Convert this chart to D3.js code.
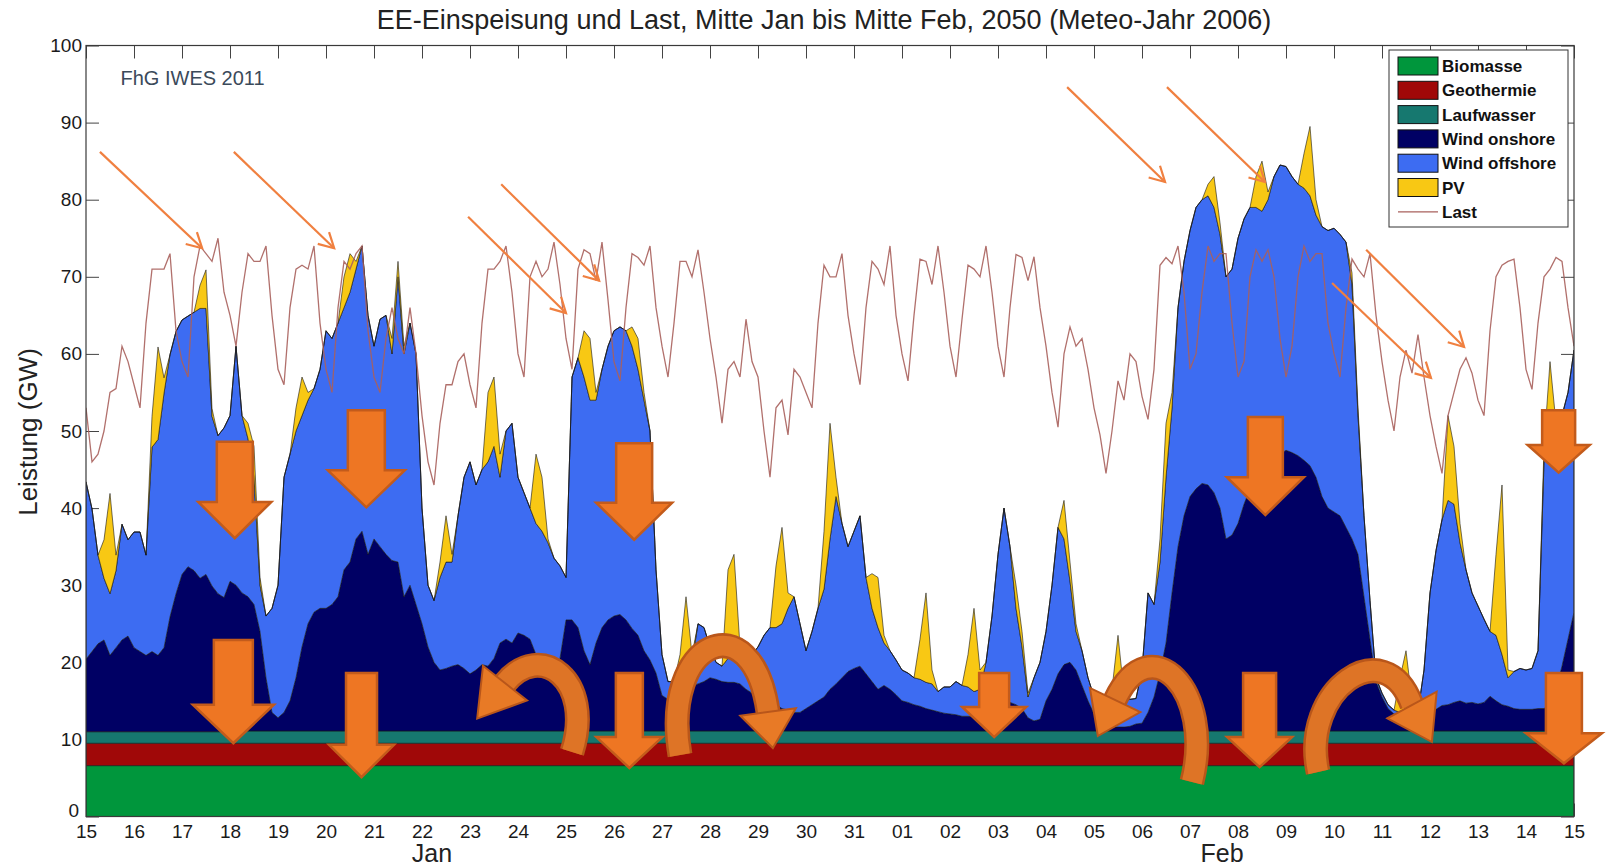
<!DOCTYPE html>
<html><head><meta charset="utf-8">
<script src="https://cdn.jsdelivr.net/npm/d3@7"></script>
<style>
html,body{margin:0;padding:0;background:#fff;}
svg{display:block;font-family:"Liberation Sans",Arial,Helvetica,sans-serif;}
</style></head><body>
<svg id="chart" width="1606" height="868"></svg>
<script>
// ---------------- DATA (GW, 3-hourly samples from 15 Jan 00:00 to 15 Feb 00:00) ----------------
const title = "EE-Einspeisung und Last, Mitte Jan bis Mitte Feb, 2050 (Meteo-Jahr 2006)";
const yLabel = "Leistung (GW)";
const sourceNote = "FhG IWES 2011";
const seriesNames = ["Biomasse","Geothermie","Laufwasser","Wind onshore","Wind offshore","PV"];
const lineName = "Last";
const yTicks = [0,10,20,30,40,50,60,70,80,90,100];
const monthLabels = ["Jan","Feb"];

// daily values (31 days)
const biomasse = [6.6,6.6,6.6,6.6,6.6,6.6,6.6,6.6,6.6,6.6,6.6,6.6,6.6,6.6,6.6,6.6,6.6,6.6,6.6,6.6,6.6,6.6,6.6,6.6,6.6,6.6,6.6,6.6,6.6,6.6,6.6];
const geothermie = [2.9,2.9,2.9,2.9,2.9,2.9,2.9,2.9,2.9,2.9,2.9,2.9,2.9,2.9,2.9,2.9,2.9,2.9,2.9,2.9,2.9,2.9,2.9,2.9,2.9,2.9,2.9,2.9,2.9,2.9,2.9];
const laufwasser = [1.5,1.5,1.5,1.6,1.6,1.6,1.6,1.6,1.6,1.6,1.6,1.6,1.6,1.6,1.6,1.6,1.6,1.6,1.6,1.6,1.6,1.6,1.6,1.6,1.6,1.6,1.6,1.6,1.6,1.6,1.6];

// 3-hourly values (249 samples)
const windOnshore = [
9.4,10.4,11.4,11.9,9.9,10.9,11.9,12.4,
10.9,10.4,9.9,10.4,9.9,10.9,14.9,17.9,
20.4,21.4,20.9,19.9,20.4,18.9,17.9,17.4,
19.4,18.9,17.9,17.4,16.4,12.9,6.9,2.4,
1.7,2.4,3.9,6.9,10.9,13.9,15.4,15.9,
15.9,16.4,17.4,20.9,21.9,24.9,25.9,22.9,
24.9,23.9,22.9,22.1,21.9,17.4,18.9,16.4,
13.9,10.9,8.9,7.9,8.1,8.4,8.6,8.1,
7.4,7.9,8.6,8.4,9.4,11.4,11.9,11.4,
12.7,12.4,11.9,9.9,8.4,6.9,7.9,9.4,
14.4,14.4,13.4,10.4,8.6,11.4,13.4,14.4,
14.9,15.1,14.4,13.3,12.4,10.4,9.2,7.5,
4.6,4.1,4.4,4.9,5.4,5.9,6.1,6.4,
6.9,6.7,6.4,6.3,6.3,6.1,5.4,4.9,
4.4,3.9,3.9,3.4,2.9,2.7,2.4,2.4,
2.9,3.4,3.9,4.4,5.4,6.1,6.9,7.7,
8.1,8.4,7.4,6.4,5.4,5.9,5.4,4.7,
3.9,3.7,3.4,3.2,2.9,2.7,2.5,2.3,
2.2,2.1,1.9,1.9,1.9,2.0,2.2,2.5,
2.9,3.9,3.7,3.4,2.9,1.7,1.3,1.5,
3.9,5.4,7.4,8.6,8.9,7.9,5.9,3.9,
2.2,0.9,0.7,0.5,0.5,0.5,0.6,0.9,
1.0,2.4,4.4,7.5,11.4,17.9,23.9,27.9,
30.4,31.4,32.1,31.9,30.9,28.9,24.9,25.4,
26.9,29.4,31.4,32.9,33.9,34.4,35.4,35.9,
36.4,36.1,35.7,35.1,34.4,32.9,30.4,28.9,
28.4,27.9,26.4,24.9,22.9,17.4,11.9,6.4,
4.4,2.9,2.2,1.9,1.6,1.6,1.7,2.2,
2.4,2.8,3.3,3.4,3.7,3.9,3.6,3.7,
3.5,3.7,4.5,3.9,3.4,3.2,2.9,2.8,
2.8,2.8,2.9,2.9,3.4,5.4,8.4,11.9,
15.4];

const windOffshore = [
23,18.5,11.5,8,8,10,15,12.5,
15,15.5,13,26.5,28,33,34,34,
33,32.5,33.5,35,34.5,22,20.5,22,
21.5,31,23,20.5,16.5,6,8,13.5,
17.2,30.5,32,32,30,29,29,31,
36,34.5,35.5,34,35,35,37,31,
25,29.5,31,26.8,37,31.5,34,32.5,
15,8,8,12,13.8,13.5,19.3,24.8,
27.5,24,25.3,26.5,27.5,21.5,27,28.5,
20.2,18.5,17,17,17.5,17.5,14.5,12,
5.5,31.5,35,35.5,34.3,31.5,33.5,35.5,
37,37.3,37.5,36.6,34.5,32.5,29.7,13.4,
5.3,2.3,2,2.5,3,3,7.8,7,
4,2.2,2,3.1,4.1,3.8,4,5,
6.5,8.5,9.5,10,11,13.2,15,11.5,
7.5,9.5,12,14,19.5,24.3,20,16.2,
17.8,19.5,12.5,9.5,8,5.5,5,4.5,
4,3.8,3.5,3.5,3.4,3.4,2.6,3.4,
3.5,4.3,4,3.8,3.2,3.4,6.7,12.4,
20,25,20.2,12.5,8,2.7,5.6,7.4,
9,13.5,19,16.3,10.5,5,4.5,3,
2.2,1.9,1.8,2.4,2.9,3.4,3.5,3.3,
6.9,15.5,12,14.4,21.5,24,31,33,
34.5,36.5,36.8,37.5,37,35.5,34,34.5,
37,37,36.5,35,33.5,34.5,36.5,37.5,
36.8,35.8,35.2,35.3,35,34,35,36,
36.8,36.5,37,33,18,10.5,5,0.5,
0.5,0.5,0.5,0.5,0.6,0.5,0.8,5.7,
15.5,20.6,24.1,26.5,25.7,20.5,17.3,14.2,
12.7,10.8,8.4,8.5,6.5,3.7,4.8,5.3,
5.1,5.3,7.5,32,34,33.5,32.5,32,
34];

const pv = [
0,0,0,5,13,2,0,0,
0,0,0,4,12,2,0,0,
0,0,0,3,5,1,0,0,
0,0,0,2,4,1,0,0,
0,0,0,3,5,1,0,0,
0,0,0,4,5,1,0,0,
0,0,0,2,2,1,0,0,
0,0,0,2,6,1,0,0,
0,0,0,9,9,3,0,0,
0,0,0,9,7,0.5,0,0,
0,0,0,6,8,1,0,0,
0,0,0,2.5,4,1,0,0,
0,0,0,2.5,9,1,0,0,
0,0,0,11.5,12.5,1,0,0,
0,0,0,8,12.5,2,0,0,
0,0,0,7.5,15,2.5,0,0,
0,0,0,4.5,6.5,1,0,0,
0,0,0,5.2,11.6,1.8,0,0,
0,0,0,4.2,10.8,2.5,0,0,
0,0,0,3,2,0.5,0,0,
0,0,0,5,2.5,1,0,0,
0,0,0,2.5,9,1,0,0,
0,0,0,3,7,2,0,0,
0,0,0,1.5,4,1.5,0,0,
0,0,0,4,6.5,1,0,0,
0,0,0,4.5,9,2,0,0,
0,0,0,1.5,1,0,0,0,
0,0,0,4.5,8.2,1.8,0,0,
0,0,0,11,7.5,2.5,0,0,
0,0,0,10.5,22,1,0,0,
0,0,0,2,10.5,1,0,0,
0];

const last = [
53,46,47,50,55,55.5,61,59,
56,53,64,71,71,71,73,63,
59,57,70,74,73,72,75,68,
65,61,68,73,72,72,74,65,
58,56,66,71,71.5,71,74,64,
58,55,66,72,71,73,74,63,
57,55,62,66,62,60,66,60,
52,46,43,51,56,56,59,60,
56,53,64,71,71,72,74,68,
60,57,70,72,70,71,74.5,69,
62,58,71,73.5,73,69.5,74.5,67,
59,56.5,66,73,72.5,71.5,74,66,
61,57,64,72,72,70,73.5,68,
62,57,51,58,59,57,64.5,59,
57,50,44,53,54,49.5,58,57,
55,53,64,71.5,70,70,73,65,
60,56,66,72,71,69,74,65,
60,56.5,65,72.3,72,69,74,68,
61,57,64.5,71.5,71,70,74,68,
61,57,66,72.9,72.5,69.5,72.6,66,
61,55,50.5,60,63.5,61,62,58,
53,49.5,44.5,50,56.5,54,60,59,
54.5,51.5,58,71.5,72.5,71.7,74,68,
58,60,68,74,72,73,73,64,
57,59,70,73.5,72,73.5,70,62,
57,61,70,74,72,73,73,64,
60,57,66,72.3,71,70,73,65,
59,54,50,57,60.5,57.5,62.5,57,
52,48,44.5,52,55,58,59.5,57.5,
54,52,63,70,71.5,72,72.3,66,
58,55.4,64,70,71,72.5,72,66,
61];

// ---------------- ANNOTATIONS (data space: days after 15 Jan, GW) ----------------
const thinArrows = [
  [0.29,86.2,2.42,73.7],[3.08,86.2,5.17,73.7],[7.96,77.8,10.0,65.3],[8.65,82.0,10.69,69.5],
  [20.44,94.6,22.48,82.3],[22.52,94.6,24.56,82.3],[25.96,69.2,28.02,56.9],[26.67,73.5,28.71,60.9]
];
// [day, shaft top, head base, tip]
const blockArrows = [
  [3.10,48.6,40.8,36.1],[5.84,52.7,44.9,40.1],[11.42,48.4,40.7,35.9],[24.57,51.8,44.0,39.1],[30.68,52.7,48.2,44.6],
  [3.07,22.9,14.5,9.5],[5.74,18.6,9.3,5.1],[11.32,18.6,10.3,6.3],[18.92,18.6,14.2,10.3],[24.45,18.6,10.3,6.4],[30.79,18.6,10.8,6.9]
];
const blockSizes = [[18,36.5],[18.5,38.5],[18,38],[17.5,38.5],[16.5,31],[19.5,40.5],[15.5,32.5],[13.5,33],[15,32],[16.5,32.5],[18,38]];
// tail, c1, c2, end, tip
const curvedArrows = [
  [[10.125,8.37],[10.6,17.7],[9.46,22.9],[8.73,17.3],[8.15,12.7]],
  [[12.375,7.97],[11.96,22.9],[13.875,28.06],[14.21,13.55],[14.31,8.88]],
  [[23.04,4.47],[23.52,16.4],[22.17,24.84],[21.44,15.11],[21.08,10.44]],
  [[25.67,5.77],[25.29,16.4],[27.06,24.19],[27.625,14.46],[28.04,9.66]]
];

// ---------------- CHART ----------------
const colors = ["#00963C","#A00808","#16786F","#000064","#3D6CF2","#F8C814"];
const lastColor = "#A8605C";
const plot = {left:86,right:1574,top:45.5,bottom:816.5};
const t0 = Date.UTC(2050,0,15);
const dayMs = 86400000;
const svg = d3.select("#chart");

const x = d3.scaleUtc().domain([new Date(t0), new Date(Date.UTC(2050,1,15))]).range([plot.left, plot.right]);
const y = d3.scaleLinear().domain([0,100]).range([plot.bottom, plot.top]);
const tx = d => x(new Date(t0 + d*dayMs));

const rows = windOnshore.map((v,k) => {
  const day = Math.min(Math.floor(k/8), 30);
  return {date:new Date(t0 + k*3*3600000),
    "Biomasse":biomasse[day],"Geothermie":geothermie[day],"Laufwasser":laufwasser[day],
    "Wind onshore":v,"Wind offshore":windOffshore[k],"PV":pv[k],"Last":last[k]};
});

// axes (ticks inward, drawn under the data like the original)
const yAxisL = svg.append("g").attr("transform",`translate(${plot.left},0)`)
  .call(d3.axisLeft(y).tickValues(yTicks).tickSizeInner(-13).tickSizeOuter(0).tickPadding(4));
const yAxisR = svg.append("g").attr("transform",`translate(${plot.right},0)`)
  .call(d3.axisRight(y).tickValues(yTicks).tickSizeInner(-13).tickSizeOuter(0).tickFormat(""));
const xAxisB = svg.append("g").attr("transform",`translate(0,${plot.bottom})`)
  .call(d3.axisBottom(x).ticks(d3.utcDay.every(1)).tickFormat(d3.utcFormat("%d")).tickSizeInner(-13).tickSizeOuter(0).tickPadding(8));
const xAxisT = svg.append("g").attr("transform",`translate(0,${plot.top})`)
  .call(d3.axisTop(x).ticks(d3.utcDay.every(1)).tickFormat("").tickSizeInner(-13).tickSizeOuter(0));
[yAxisL,yAxisR,xAxisB,xAxisT].forEach(g => {
  g.select(".domain").remove();
  g.selectAll("line").attr("stroke","#444");
  g.selectAll("text").attr("font-size",19).attr("fill","#1a1a1a").attr("font-family","Liberation Sans, Arial, sans-serif");
});
// the "0" label sits a little higher / left so it clears the first day label
yAxisL.selectAll(".tick text").filter(d => d === 0).attr("dy","0.0em").attr("dx","-3");

svg.append("clipPath").attr("id","clip").append("rect")
  .attr("x",plot.left).attr("y",plot.top).attr("width",plot.right-plot.left).attr("height",plot.bottom-plot.top);

const stack = d3.stack().keys(seriesNames)(rows);
const area = d3.area().x(d => x(d.data.date)).y0(d => y(d[0])).y1(d => y(d[1]));
const gData = svg.append("g").attr("clip-path","url(#clip)");
gData.selectAll("path.layer").data(stack).join("path")
  .attr("class","layer").attr("d",area)
  .attr("fill",(d,i)=>colors[i]).attr("stroke","#151515").attr("stroke-width",0.6).attr("stroke-linejoin","round");

const line = d3.line().x(d => x(d.date)).y(d => y(d.Last));
gData.append("path").datum(rows).attr("d",line).attr("fill","none")
  .attr("stroke",lastColor).attr("stroke-width",1.3).attr("opacity",0.9);

// frame
svg.append("rect").attr("x",plot.left).attr("y",plot.top).attr("width",plot.right-plot.left).attr("height",plot.bottom-plot.top)
  .attr("fill","none").attr("stroke","#3a3a3a").attr("stroke-width",1.2);

// texts
svg.append("text").attr("x",824).attr("y",29).attr("text-anchor","middle").attr("font-size",27).attr("fill","#222").text(title);
svg.append("text").attr("transform",`translate(28,${(plot.top+plot.bottom)/2 + 1}) rotate(-90)`).attr("text-anchor","middle")
  .attr("dy","0.35em").attr("font-size",26).attr("fill","#222").text(yLabel);
svg.append("text").attr("x",120.5).attr("y",85).attr("font-size",20).attr("fill","#3B4A5A").text(sourceNote);
const monthPos = [Date.UTC(2050,0,22,5), Date.UTC(2050,1,7,16)];
monthLabels.forEach((m,i) => svg.append("text").attr("x",x(new Date(monthPos[i]))).attr("y",862)
  .attr("text-anchor","middle").attr("font-size",25).attr("fill","#222").text(m));

// annotations
const gAnn = svg.append("g");
const orangeThin = "#F08040";
thinArrows.forEach(a => {
  const x1 = tx(a[0]), y1 = y(a[1]), x2 = tx(a[2]), y2 = y(a[3]);
  const ang = Math.atan2(y2-y1, x2-x1), L = 17, sp = 0.5;
  gAnn.append("line").attr("x1",x1).attr("y1",y1).attr("x2",x2).attr("y2",y2).attr("stroke",orangeThin).attr("stroke-width",2.2);
  gAnn.append("path").attr("d",`M${x2-L*Math.cos(ang-sp)},${y2-L*Math.sin(ang-sp)}L${x2},${y2}L${x2-L*Math.cos(ang+sp)},${y2-L*Math.sin(ang+sp)}`)
    .attr("fill","none").attr("stroke",orangeThin).attr("stroke-width",2.2);
});
blockArrows.forEach((a,i) => {
  const cx = tx(a[0]), yt = y(a[1]), yb = y(a[2]), yp = y(a[3]);
  const sw = blockSizes[i][0], hw = blockSizes[i][1];
  const pts = [[cx-sw,yt],[cx+sw,yt],[cx+sw,yb],[cx+hw,yb],[cx,yp],[cx-hw,yb],[cx-sw,yb]];
  gAnn.append("path").attr("d","M"+pts.map(p=>p.join(",")).join("L")+"Z")
    .attr("fill","#EE7623").attr("stroke","#C35B1B").attr("stroke-width",2.5).attr("stroke-linejoin","miter");
});
curvedArrows.forEach(c => {
  const p = c.map(q => [tx(q[0]), y(q[1])]);
  const d = `M${p[0]}C${p[1]} ${p[2]} ${p[3]}`;
  gAnn.append("path").attr("d",d).attr("fill","none").attr("stroke","#B9561A").attr("stroke-width",25);
  gAnn.append("path").attr("d",d).attr("fill","none").attr("stroke","#DE7426").attr("stroke-width",20);
  const dx = p[4][0]-p[3][0], dy = p[4][1]-p[3][1], n = Math.hypot(dx,dy);
  const ux = dx/n, uy = dy/n, hw = 28;
  const b1 = [p[3][0]-uy*hw, p[3][1]+ux*hw], b2 = [p[3][0]+uy*hw, p[3][1]-ux*hw];
  gAnn.append("path").attr("d",`M${b1}L${p[4]}L${b2}Z`).attr("fill","#E87A26").attr("stroke","#B9561A").attr("stroke-width",2);
});

// legend
const lg = svg.append("g");
lg.append("rect").attr("x",1389).attr("y",50).attr("width",179).attr("height",177).attr("fill","#fff").attr("stroke","#333").attr("stroke-width",1);
seriesNames.forEach((s,i) => {
  const cy = 66 + i*24.3;
  lg.append("rect").attr("x",1398).attr("y",cy-9).attr("width",40).attr("height",18).attr("fill",colors[i]).attr("stroke","#111").attr("stroke-width",1);
  lg.append("text").attr("x",1442).attr("y",cy+6).attr("font-size",17).attr("font-weight","bold").attr("fill","#111").text(s);
});
{
  const cy = 66 + 6*24.3;
  lg.append("line").attr("x1",1398).attr("x2",1438).attr("y1",cy).attr("y2",cy).attr("stroke",lastColor).attr("stroke-width",1.3);
  lg.append("text").attr("x",1442).attr("y",cy+6).attr("font-size",17).attr("font-weight","bold").attr("fill","#111").text(lineName);
}
</script></body></html>
